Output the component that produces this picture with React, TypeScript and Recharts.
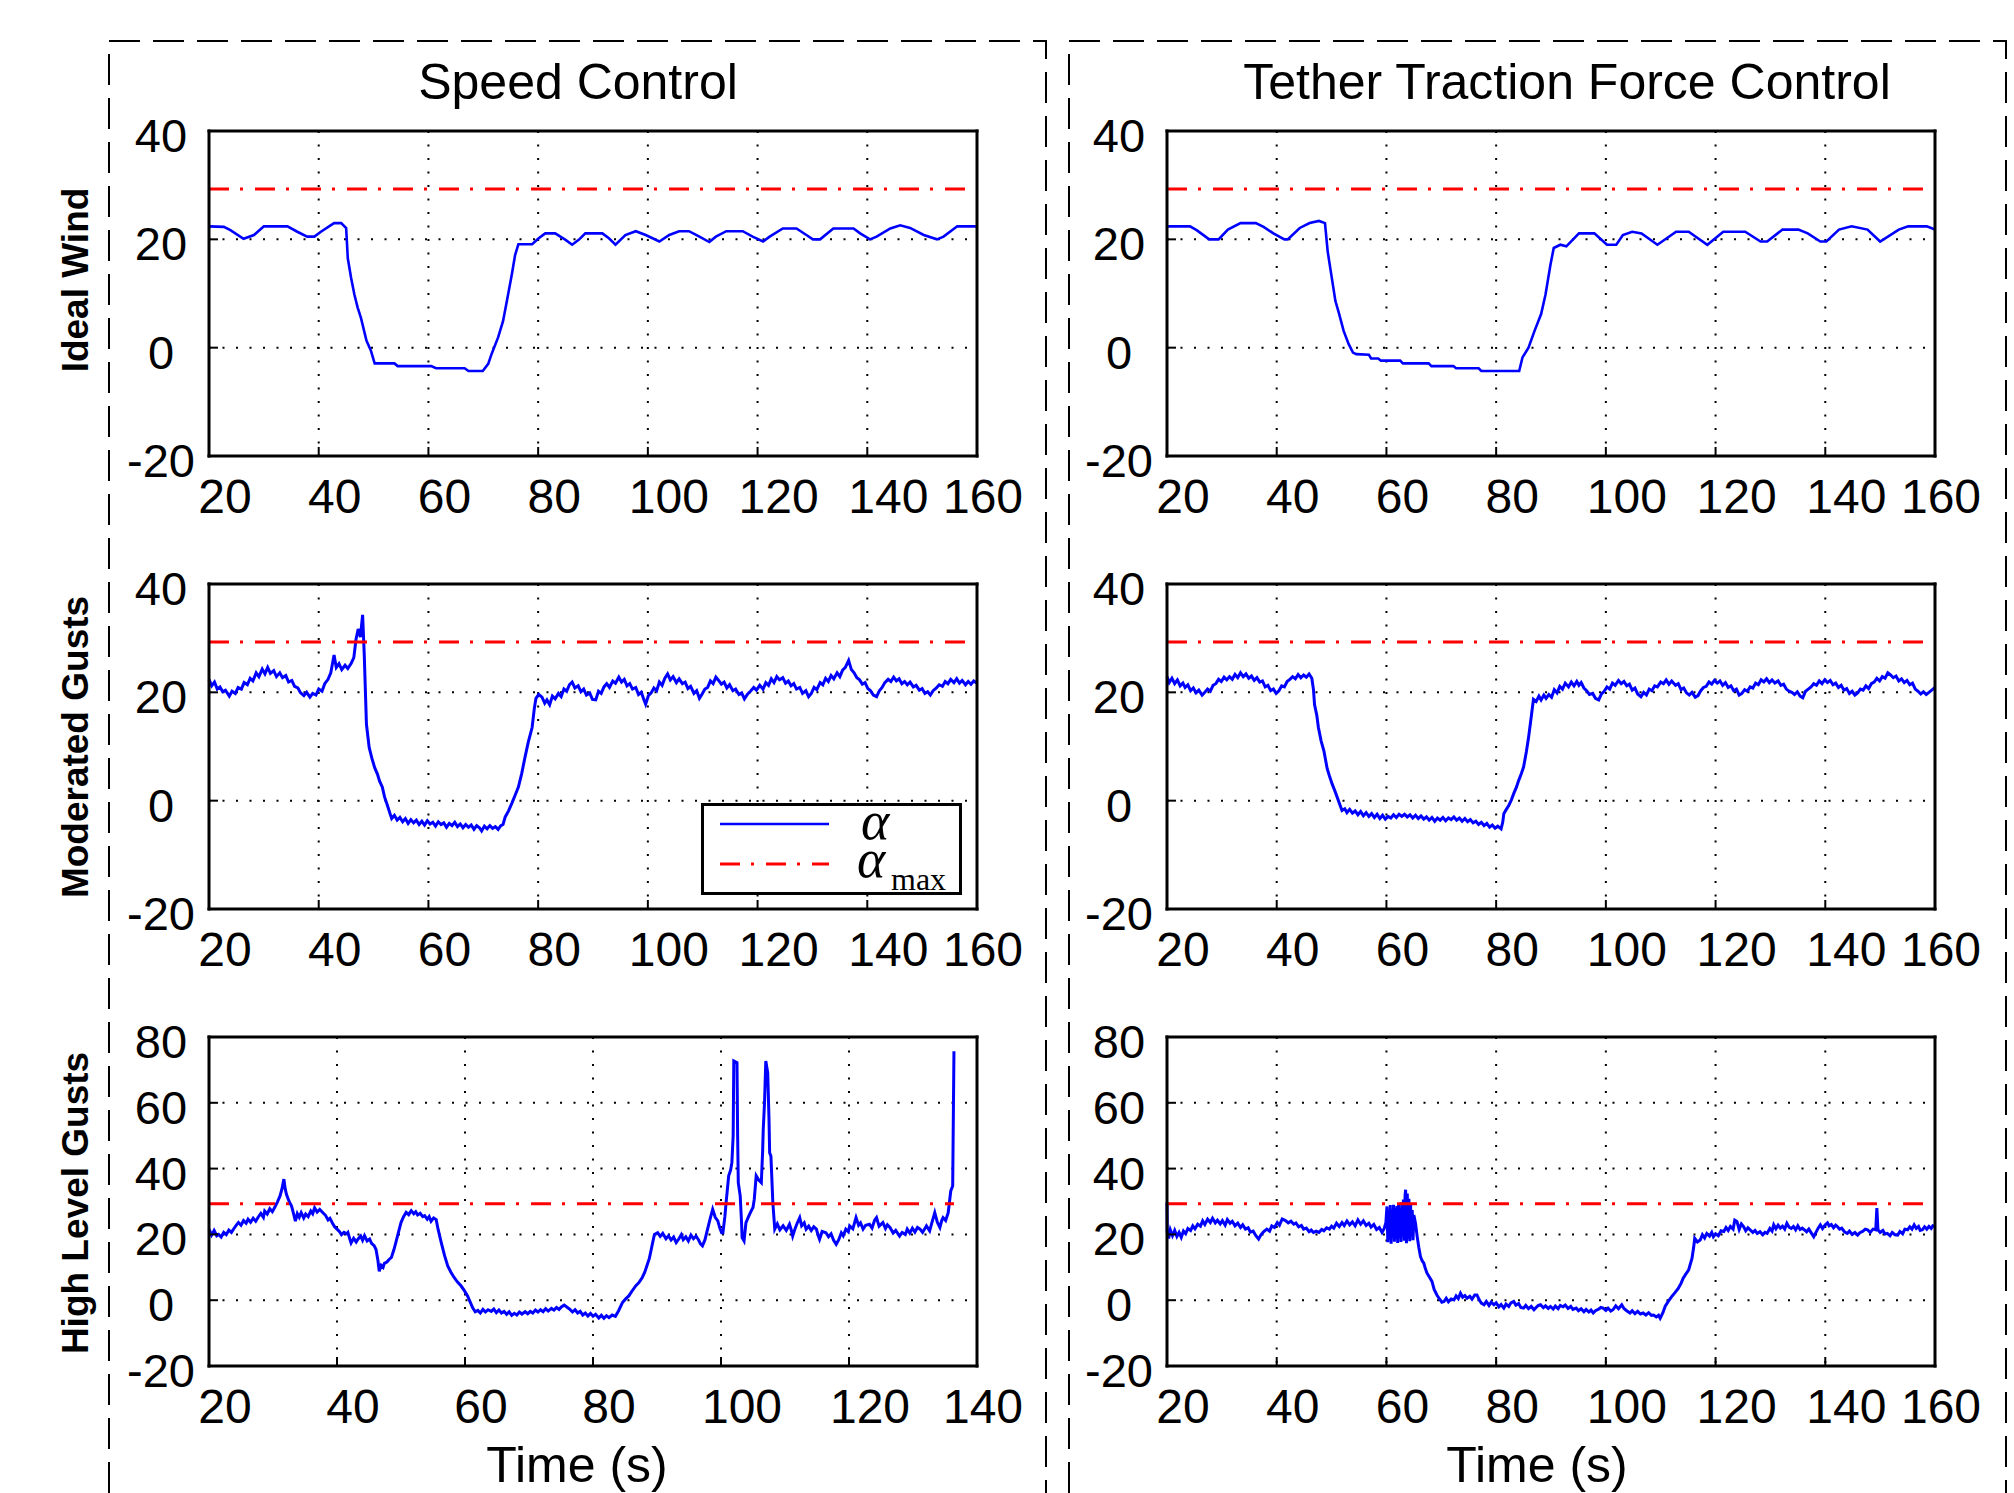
import React from "react"
import { LineChart, Line, XAxis, YAxis, CartesianGrid } from "recharts"

type Pt = [number, number]

const ALPHA_MAX = 29.3
const timeTicks = [20, 40, 60, 80, 100, 120, 140, 160]
const timeTicksHigh = [20, 40, 60, 80, 100, 120, 140]
const alphaTicks = [-20, 0, 20, 40]
const alphaTicksHigh = [-20, 0, 20, 40, 60, 80]
const columnTitles = ["Speed Control", "Tether Traction Force Control"]
const rowLabels = ["Ideal Wind", "Moderated Gusts", "High Level Gusts"]
const xAxisLabel = "Time (s)"
const legendLabels = ["α", "α", "max"]

// angle of attack (deg) vs time (s)
const idealSpeed: Pt[] = [
  [20, 22.4], [22.7, 22.3], [23.9, 21.7], [26.3, 20.1], [28.2, 20.8], [30, 22.4], [34.3, 22.4], [36.1, 21.4],
  [37.9, 20.5], [39.2, 20.5], [40.4, 21.4], [42.8, 23.0], [44.1, 23.0], [45, 22.1], [45.3, 16.5], [45.9, 12.9],
  [46.5, 9.8], [47.1, 7.4], [47.7, 5.5], [48.7, 1.3], [49.5, -0.5], [50.2, -2.9], [53.8, -2.9], [54.4, -3.4],
  [60.5, -3.4], [61.4, -3.8], [66.6, -3.8], [67.3, -4.3], [69.9, -4.3], [70.9, -3.0], [71.5, -1.2], [72.7, 1.9],
  [73.6, 4.9], [74.3, 8.6], [75.2, 13.5], [75.8, 17.1], [76.4, 19.1], [78.9, 19.1], [80.1, 20.2], [81.3, 21.1],
  [83.1, 21.1], [85, 19.9], [86.2, 19.0], [87.4, 19.9], [88.6, 21.1], [91.7, 21.1], [92.9, 20.2], [94.1, 19.0],
  [95.9, 20.8], [97.8, 21.5], [99.6, 20.8], [102.1, 19.6], [103.9, 20.8], [105.7, 21.5], [107.5, 21.5],
  [109.4, 20.5], [111.2, 19.5], [112.4, 20.5], [114.3, 21.5], [117.3, 21.5], [119.1, 20.5], [121, 19.6],
  [122.2, 20.5], [124.6, 22.0], [127.1, 22.0], [128.9, 20.8], [130.1, 20.0], [131.4, 20.0], [133.8, 22.0],
  [137.5, 22.0], [138.7, 21.1], [140.5, 20.0], [141.7, 20.5], [144.2, 22.0], [146, 22.6], [147.8, 22.1],
  [150.3, 20.8], [152.7, 20.0], [153.9, 20.5], [156.4, 22.4], [160, 22.4],
]

const idealTether: Pt[] = [
  [20, 22.4], [24.2, 22.4], [25.4, 21.7], [27.7, 20.0], [29.4, 20.0], [31.1, 21.8], [33.4, 23.0], [36.2, 23.0],
  [37.6, 22.3], [39.4, 21.1], [41.4, 20.0], [42, 20.0], [44.2, 22.1], [46, 23.0], [47.7, 23.4], [48.8, 23.0],
  [49.3, 17.7], [49.9, 13.8], [50.7, 8.6], [51.3, 6.5], [52.2, 3.1], [53.1, 0.7], [53.9, -0.9], [54.5, -1.2],
  [56.8, -1.3], [57.2, -2.0], [58.5, -2.0], [59, -2.4], [62.5, -2.4], [63, -2.9], [67.7, -2.9], [68.2, -3.4],
  [72.2, -3.4], [72.7, -3.8], [76.8, -3.8], [77.3, -4.3], [84.2, -4.3], [84.8, -1.8], [85.9, 0], [87, 3.1],
  [88.2, 6.2], [89, 9.8], [89.9, 15.3], [90.5, 18.4], [91.7, 19.0], [92.8, 18.7], [95.1, 21.1], [97.9, 21.1],
  [98.9, 20.2], [100.2, 19.0], [101.9, 19.0], [103.1, 20.8], [104.8, 21.4], [106.5, 21.1], [109.4, 19.0],
  [112.8, 21.4], [115.1, 21.4], [118.5, 19.0], [121.4, 21.4], [125.4, 21.4], [128.2, 19.6], [129.4, 19.6],
  [132.2, 21.8], [135.1, 21.8], [136.8, 21.1], [139.1, 19.6], [140.2, 19.6], [142.5, 21.8], [144.8, 22.4],
  [147.7, 21.8], [150, 19.6], [153.4, 21.8], [155.1, 22.4], [158.5, 22.4], [160, 21.8],
]

const moderatedSpeed: Pt[] = [
  [20, 22.4], [20.5, 21.2], [21, 21.9], [21.5, 20.6], [22, 21.0], [22.5, 20.1], [23, 20.4], [23.7, 19.3], [24.2, 20.2],
  [24.8, 19.8], [25.3, 20.9], [25.9, 20.6], [26.4, 21.8], [27, 21.4], [27.5, 22.6], [28, 22.1], [28.6, 23.6],
  [29.1, 22.9], [29.7, 24.3], [30.2, 23.4], [30.7, 24.6], [31.2, 23.5], [31.8, 24.0], [32.3, 22.9], [32.9, 23.6],
  [33.4, 22.7], [34, 23.1], [34.5, 21.9], [35.1, 22.2], [35.6, 21.1], [36.2, 20.8], [36.7, 19.9], [37.3, 19.4],
  [37.8, 20.0], [38.4, 19.1], [38.9, 19.8], [39.5, 19.5], [40, 20.6], [40.6, 20.2], [41.1, 21.6], [41.7, 22.4],
  [42.2, 23.6], [42.8, 26.9], [43.2, 24.6], [43.7, 25.3], [44.2, 24.2], [44.8, 25.0], [45.3, 24.4], [45.9, 25.3],
  [46.4, 26.4], [46.8, 29.8], [47.2, 31.7], [47.6, 30.2], [48, 34.3], [48.3, 27], [48.5, 20.5], [48.7, 14.1],
  [49.2, 9.8], [49.7, 7.8], [50.2, 6.1], [50.7, 4.9], [51.1, 3.6], [51.6, 2.5], [52, 0.7], [52.5, -0.8], [53, -2.4],
  [53.3, -3.3], [53.8, -2.7], [54.3, -3.6], [54.8, -3.1], [55.3, -3.9], [55.8, -3.3], [56.3, -4.2], [56.8, -3.5],
  [57.3, -4.1], [57.8, -3.6], [58.3, -4.4], [58.8, -3.8], [59.3, -4.5], [59.8, -3.7], [60.3, -4.3], [60.8, -4.0],
  [61.3, -4.7], [61.8, -3.9], [62.3, -4.4], [62.8, -4.1], [63.3, -4.9], [63.8, -4.2], [64.3, -4.6], [64.8, -4.0],
  [65.3, -4.8], [65.8, -4.3], [66.3, -5.0], [66.8, -4.4], [67.3, -4.9], [67.8, -4.5], [68.3, -5.3], [68.8, -4.6],
  [69.3, -5.0], [69.7, -5.6], [70.2, -4.7], [70.7, -5.2], [71.2, -4.6], [71.7, -5.1], [72.2, -4.8], [72.7, -5.3],
  [73.2, -4.6], [73.6, -4.4], [74, -3.0], [74.6, -1.9], [75.2, -0.5], [75.8, 1.0], [76.4, 2.5], [77, 5.0],
  [77.6, 8.0], [78.2, 10.8], [78.9, 13.5], [79.3, 17.0], [79.6, 18.9], [80.1, 19.6], [80.7, 19.1], [81.2, 18.0],
  [81.6, 18.6], [82.1, 17.7], [82.6, 19.3], [83.1, 18.8], [83.7, 19.8], [84.2, 19.2], [84.7, 20.6], [85.2, 20.2],
  [85.7, 21.4], [86.2, 21.9], [86.7, 20.8], [87.3, 21.2], [87.8, 20.1], [88.3, 20.6], [88.8, 19.5], [89.4, 19.9],
  [89.9, 18.7], [90.5, 18.6], [91, 20.2], [91.5, 19.8], [92, 21.0], [92.5, 21.6], [93, 20.9], [93.6, 22.1],
  [94.1, 21.7], [94.7, 22.8], [95.2, 21.9], [95.7, 22.4], [96.2, 21.2], [96.7, 21.6], [97.2, 20.6], [97.8, 20.9],
  [98.3, 19.6], [98.8, 20.0], [99.3, 18.6], [99.6, 17.8], [100.1, 19.4], [100.6, 19.9], [101.1, 20.8], [101.6, 20.3],
  [102.1, 21.9], [102.6, 21.3], [103.1, 22.6], [103.6, 23.4], [104.1, 22.3], [104.6, 22.9], [105.2, 21.8],
  [105.7, 22.5], [106.3, 21.6], [106.8, 21.9], [107.3, 20.7], [107.8, 21.1], [108.4, 19.8], [108.9, 20.3],
  [109.4, 18.9], [109.9, 19.7], [110.4, 20.6], [110.9, 20.9], [111.4, 22.1], [111.9, 21.6], [112.4, 22.8],
  [112.9, 22.2], [113.4, 21.5], [113.9, 21.9], [114.4, 20.8], [114.9, 21.4], [115.5, 20.3], [116, 20.6],
  [116.6, 19.6], [117.1, 19.9], [117.6, 18.8], [118.2, 19.7], [118.7, 20.2], [119.3, 20.9], [119.8, 20.4],
  [120.4, 21.3], [121, 20.6], [121.5, 21.8], [122, 21.3], [122.5, 22.5], [123, 21.8], [123.5, 22.9], [124, 22.3],
  [124.6, 22.7], [125.1, 21.7], [125.6, 22.1], [126.1, 21.2], [126.6, 21.6], [127.1, 20.6], [127.7, 20.9],
  [128.2, 19.8], [128.8, 20.3], [129.3, 19.2], [129.8, 19.8], [130.3, 20.9], [130.8, 20.5], [131.4, 21.8],
  [131.9, 21.4], [132.4, 22.6], [132.9, 22.0], [133.4, 23.1], [133.9, 22.5], [134.5, 23.6], [135, 22.9],
  [135.5, 24.1], [136, 24.6], [136.6, 25.9], [137.1, 24.2], [137.6, 23.6], [138.1, 22.7], [138.6, 22.3],
  [139.1, 21.5], [139.6, 21.8], [140.1, 20.7], [140.6, 20.3], [141.1, 19.5], [141.7, 19.2], [142.2, 20.3],
  [142.7, 20.9], [143.2, 21.8], [143.8, 22.4], [144.3, 22.0], [144.8, 22.8], [145.3, 22.1], [145.8, 22.5],
  [146.3, 21.6], [146.8, 22.0], [147.3, 21.4], [147.8, 21.9], [148.4, 21.0], [148.9, 21.3], [149.5, 20.4],
  [150, 20.7], [150.5, 19.8], [151, 20.1], [151.5, 19.5], [152, 20.3], [152.6, 20.8], [153.1, 21.4], [153.7, 21.1],
  [154.2, 22.0], [154.7, 21.6], [155.2, 22.4], [155.8, 21.8], [156.3, 22.5], [156.8, 21.7], [157.3, 22.2],
  [157.9, 21.4], [158.4, 22.0], [158.9, 21.5], [159.4, 22.1], [160, 21.7],
]

const moderatedTether: Pt[] = [
  [20, 22.9], [20.4, 21.8], [20.9, 22.6], [21.4, 21.6], [21.9, 22.3], [22.4, 21.2], [22.9, 21.7], [23.3, 20.9],
  [23.8, 21.4], [24.3, 20.3], [24.8, 20.8], [25.3, 19.9], [25.8, 20.4], [26.4, 19.5], [26.9, 20.0], [27.4, 20.6],
  [27.9, 20.2], [28.4, 21.3], [28.9, 21.6], [29.4, 22.4], [29.9, 22.0], [30.4, 22.8], [30.9, 22.3], [31.4, 22.9],
  [31.9, 22.4], [32.4, 23.3], [32.9, 22.7], [33.4, 23.6], [33.9, 22.9], [34.4, 23.4], [34.9, 22.6], [35.4, 23.0],
  [35.9, 22.2], [36.4, 22.7], [36.9, 21.9], [37.4, 22.1], [37.9, 21.0], [38.4, 21.3], [38.9, 20.3], [39.4, 20.6],
  [39.9, 19.8], [40.4, 20.3], [40.9, 21.2], [41.4, 21.0], [41.9, 22.0], [42.4, 22.4], [42.9, 22.9], [43.4, 22.5],
  [43.9, 23.3], [44.4, 22.7], [44.9, 23.2], [45.4, 22.8], [45.9, 23.4], [46.4, 22.6], [46.7, 20.5], [46.9, 17.7],
  [47.3, 15.8], [47.6, 13.5], [48.1, 11.0], [48.6, 9.2], [49.2, 5.9], [49.6, 4.6], [50.1, 3.1], [50.6, 1.8],
  [51, 0.7], [51.5, -0.7], [51.9, -1.8], [52.4, -1.5], [52.8, -2.2], [53.3, -1.6], [53.8, -2.3], [54.3, -1.9],
  [54.8, -2.6], [55.3, -2.0], [55.8, -2.8], [56.3, -2.2], [56.8, -2.9], [57.3, -2.4], [57.8, -3.1], [58.3, -2.5],
  [58.8, -3.3], [59.3, -2.7], [59.8, -3.4], [60.3, -2.9], [60.8, -3.2], [61.3, -2.6], [61.8, -3.1], [62.3, -2.5],
  [62.8, -2.9], [63.3, -2.5], [63.8, -3.0], [64.3, -2.6], [64.8, -3.2], [65.3, -2.7], [65.8, -3.3], [66.3, -2.8],
  [66.8, -3.4], [67.3, -3.0], [67.8, -3.6], [68.3, -3.1], [68.8, -3.8], [69.3, -3.2], [69.8, -3.6], [70.3, -3.1],
  [70.8, -3.7], [71.3, -3.2], [71.8, -3.5], [72.3, -3.0], [72.8, -3.6], [73.3, -3.2], [73.8, -3.8], [74.3, -3.3],
  [74.8, -3.9], [75.3, -3.5], [75.8, -4.1], [76.3, -3.8], [76.8, -4.4], [77.3, -4.0], [77.8, -4.6], [78.3, -4.2],
  [78.8, -4.9], [79.3, -4.5], [79.8, -5.1], [80.3, -4.7], [80.9, -5.2], [81.2, -4.0], [81.4, -2.4], [81.8, -1.7],
  [82.3, -0.9], [82.8, 0.2], [83.2, 1.3], [83.7, 2.5], [84.1, 3.7], [84.6, 5.0], [85, 6.2], [85.5, 9.0], [85.9, 11.6],
  [86.3, 14.7], [86.8, 18.7], [87.3, 18.3], [87.8, 19.3], [88.2, 18.6], [88.7, 19.5], [89.1, 18.9], [89.6, 19.6],
  [90.1, 19.1], [90.6, 20.5], [91.1, 19.9], [91.6, 21.1], [92.1, 20.6], [92.6, 21.7], [93.2, 21.0], [93.7, 21.9],
  [94.2, 21.2], [94.7, 22.0], [95.1, 21.3], [95.5, 21.8], [96, 20.8], [96.5, 20.3], [97, 19.6], [97.6, 19.8],
  [98.1, 18.9], [98.7, 18.6], [99.2, 19.7], [99.7, 20.2], [100.2, 21.0], [100.7, 20.6], [101.2, 21.7], [101.7, 21.3],
  [102.3, 22.2], [102.8, 21.6], [103.3, 22.0], [103.8, 21.2], [104.3, 21.5], [104.8, 20.4], [105.3, 20.8],
  [105.8, 19.7], [106.4, 19.2], [106.9, 20.0], [107.4, 19.5], [107.9, 20.6], [108.4, 20.3], [108.9, 21.2],
  [109.4, 21.0], [110, 21.9], [110.5, 21.6], [111, 22.3], [111.5, 21.5], [112, 22.1], [112.7, 21.3], [113.2, 21.6],
  [113.7, 20.5], [114.2, 20.8], [114.7, 19.9], [115.2, 19.5], [115.7, 20.0], [116.3, 19.1], [116.8, 19.4],
  [117.3, 20.3], [117.8, 20.9], [118.3, 21.1], [118.8, 21.9], [119.3, 21.5], [119.8, 22.2], [120.3, 21.7],
  [120.8, 22.1], [121.3, 21.3], [121.8, 21.8], [122.3, 20.9], [122.8, 21.2], [123.3, 20.3], [123.8, 20.6],
  [124.3, 19.5], [124.8, 19.8], [125.3, 20.5], [125.8, 20.2], [126.3, 21.0], [126.8, 20.8], [127.3, 21.7],
  [127.8, 21.4], [128.3, 22.3], [128.8, 21.9], [129.3, 22.5], [129.8, 21.8], [130.3, 22.3], [130.8, 21.7],
  [131.4, 22.1], [131.9, 21.3], [132.4, 21.5], [132.9, 20.6], [133.4, 20.2], [133.9, 20.0], [134.4, 19.6],
  [134.9, 20.1], [135.4, 19.3], [135.9, 19.0], [136.4, 20.2], [136.9, 20.6], [137.4, 21.0], [137.9, 21.6],
  [138.4, 21.3], [138.9, 22.1], [139.4, 21.6], [139.9, 22.3], [140.4, 21.8], [140.9, 22.2], [141.4, 21.4],
  [141.9, 21.7], [142.4, 20.9], [142.9, 21.3], [143.4, 20.4], [143.9, 20.7], [144.4, 19.8], [144.9, 20.2],
  [145.4, 19.5], [145.9, 19.9], [146.4, 20.6], [146.9, 20.4], [147.4, 21.2], [147.9, 20.7], [148.4, 21.6],
  [148.9, 21.9], [149.4, 22.6], [149.9, 22.1], [150.4, 22.9], [150.9, 22.6], [151.4, 23.6], [151.9, 23.2],
  [152.4, 22.7], [152.9, 23.0], [153.4, 22.1], [153.9, 22.5], [154.4, 21.8], [154.9, 22.2], [155.4, 21.4],
  [155.9, 21.7], [156.4, 20.6], [156.9, 20.2], [157.4, 19.7], [157.9, 20.1], [158.4, 19.6], [158.9, 20.0],
  [159.4, 20.4], [160, 20.9],
]

const highSpeed: Pt[] = [
  [20, 21.6], [20.4, 19.8], [20.8, 21.2], [21.2, 19.6], [21.5, 20.0], [21.9, 19.2], [22.3, 20.6], [22.7, 19.9],
  [23.1, 21.3], [23.5, 20.6], [23.9, 21.8], [24.3, 22.9], [24.6, 23.6], [25, 22.8], [25.4, 24.2], [25.8, 23.4],
  [26.1, 24.6], [26.5, 23.7], [26.9, 24.9], [27.3, 24.0], [27.7, 25.3], [28.1, 26.4], [28.5, 25.2], [28.7, 27.1],
  [29.1, 26.2], [29.5, 27.8], [29.9, 26.9], [30.3, 28.3], [30.7, 29.9], [31.1, 31.7], [31.4, 33.8], [31.7, 36.8],
  [31.9, 33.9], [32.1, 32.2], [32.5, 30.1], [32.9, 28.6], [33.2, 26.4], [33.5, 24.0], [33.8, 26.3], [34.1, 25.2],
  [34.4, 26.6], [34.8, 25.0], [35.1, 26.2], [35.5, 25.4], [35.9, 27.1], [36.2, 26.3], [36.5, 28.1], [36.9, 26.8],
  [37.3, 27.6], [37.8, 26.6], [38.2, 25.8], [38.6, 24.4], [38.9, 24.9], [39.3, 23.4], [39.6, 22.4], [40, 21.6],
  [40.4, 20.8], [40.7, 19.9], [41.1, 20.6], [41.5, 20.2], [41.7, 20.6], [42, 18.6], [42.2, 17.4], [42.6, 18.8],
  [43, 17.7], [43.3, 18.6], [43.7, 19.5], [44, 18.2], [44.3, 19.6], [44.7, 18.0], [45.1, 18.6], [45.4, 17.3],
  [45.8, 16.6], [46.1, 15.4], [46.4, 12.0], [46.6, 8.8], [46.9, 10.6], [47.2, 10.0], [47.4, 11.2], [47.8, 11.6],
  [48.1, 12.3], [48.5, 13.0], [48.9, 15.4], [49.2, 17.6], [49.6, 20.6], [50, 23.6], [50.4, 25.4], [50.8, 26.7],
  [51.2, 26.0], [51.6, 27.2], [52, 26.3], [52.3, 26.9], [52.6, 25.9], [53, 26.4], [53.4, 25.4], [53.7, 25.7],
  [54.1, 24.6], [54.4, 25.4], [54.7, 24.0], [55.1, 25.0], [55.5, 24.5], [55.8, 21.5], [56.3, 17.4], [56.8, 13.6],
  [57.3, 10.4], [57.8, 8.5], [58.3, 6.9], [58.8, 5.6], [59.4, 4.3], [59.9, 2.9], [60.4, 1.3], [60.8, -0.5],
  [61.2, -2.3], [61.6, -3.5], [62, -3.1], [62.4, -3.9], [62.8, -2.8], [63.2, -3.6], [63.6, -2.9], [64.1, -3.4],
  [64.5, -2.7], [64.9, -3.8], [65.3, -3.0], [65.7, -3.9], [66.1, -3.4], [66.5, -4.3], [66.9, -3.5], [67.3, -4.6],
  [67.7, -4.0], [68.1, -4.5], [68.5, -3.6], [68.9, -4.2], [69.4, -3.5], [69.8, -4.1], [70.2, -3.4], [70.6, -3.9],
  [71, -3.0], [71.4, -3.6], [71.8, -2.9], [72.2, -3.5], [72.6, -2.6], [73, -3.3], [73.5, -2.5], [73.9, -3.0],
  [74.3, -2.2], [74.7, -2.8], [75.1, -2.0], [75.5, -1.5], [76, -2.2], [76.4, -2.8], [76.8, -3.6], [77.2, -2.9],
  [77.6, -3.9], [78, -3.4], [78.4, -4.5], [78.8, -3.9], [79.2, -4.8], [79.6, -4.0], [80, -4.9], [80.4, -4.3],
  [80.9, -5.4], [81.3, -4.6], [81.7, -5.5], [82.1, -4.7], [82.5, -5.3], [83, -4.5], [83.5, -4.9], [84, -3.2],
  [84.6, -0.7], [85.1, 0.4], [85.6, 1.3], [86.1, 2.8], [86.7, 4.4], [87.2, 5.4], [87.7, 6.9], [88.1, 8.6],
  [88.5, 10.9], [88.8, 12.7], [89, 14.5], [89.3, 17.3], [89.6, 20.0], [90.1, 20.5], [90.5, 19.4], [90.9, 20.3],
  [91.4, 18.7], [91.8, 19.6], [92.2, 18.3], [92.6, 19.2], [93, 17.5], [93.4, 18.6], [93.8, 19.9], [94.1, 18.4],
  [94.5, 19.3], [94.9, 18.0], [95.3, 19.8], [95.7, 18.7], [96.1, 19.5], [96.5, 18.3], [96.8, 17.1], [97.1, 16.5],
  [97.5, 18.4], [97.9, 21.6], [98.3, 24.7], [98.7, 27.6], [99.1, 25.2], [99.5, 24.1], [99.8, 22.0], [100.1, 20.5],
  [100.3, 20.5], [100.6, 25.3], [100.8, 29.7], [101.2, 37.8], [101.5, 39.5], [101.7, 41.8], [101.9, 50.0],
  [102, 72.7], [102.5, 72.2], [102.6, 50.0], [102.7, 35.7], [103, 31.7], [103.2, 24.0], [103.3, 19.0], [103.6, 18.0],
  [103.9, 23.6], [104.3, 25.4], [104.7, 27.1], [105, 28.2], [105.2, 30.7], [105.5, 37.8], [105.9, 36.5],
  [106.3, 35.7], [106.5, 45.0], [106.6, 51.9], [106.8, 60.0], [107, 72.7], [107.3, 69.1], [107.5, 55.0],
  [107.6, 44.8], [107.8, 43.8], [108.1, 29.7], [108.4, 21.6], [108.8, 23.2], [109.2, 21.4], [109.7, 22.6],
  [110.2, 21.2], [110.7, 23.1], [111, 21.2], [111.2, 19.5], [111.6, 21.9], [111.9, 23.4], [112.3, 25.1],
  [112.6, 22.6], [113, 23.5], [113.3, 21.6], [113.7, 22.5], [114.1, 21.2], [114.5, 22.3], [114.9, 21.6],
  [115.2, 19.6], [115.4, 18.5], [115.8, 20.9], [116.4, 20.5], [116.8, 19.3], [117.2, 20.2], [117.6, 18.2],
  [118, 17.0], [118.4, 18.4], [118.8, 20.5], [119.1, 19.6], [119.5, 21.6], [119.9, 20.8], [120.1, 22.6],
  [120.6, 21.7], [121.1, 25.1], [121.5, 22.8], [121.8, 23.5], [122.2, 21.6], [122.6, 22.8], [123.2, 23.1],
  [123.6, 21.9], [124, 24.3], [124.3, 25.1], [124.7, 22.5], [125.3, 23.6], [125.7, 21.8], [126, 22.9],
  [126.4, 22.1], [126.9, 20.4], [127.3, 21.2], [127.9, 19.5], [128.3, 20.6], [128.8, 20.0], [129.1, 21.6],
  [129.5, 20.4], [129.9, 21.9], [130.3, 20.7], [130.7, 22.1], [131.1, 21.6], [131.5, 20.6], [132.1, 22.6],
  [132.6, 21.1], [132.9, 23.2], [133.4, 26.6], [133.8, 23.7], [134.2, 22.1], [134.5, 24.3], [134.7, 25.1],
  [135.1, 24.2], [135.5, 26.6], [135.9, 33.2], [136.2, 34.7], [136.4, 75.7],
]

const highTether: Pt[] = [
  [20, 29.7], [20.05, 20.5], [20.3, 18.8], [20.6, 21.4], [21, 19.6], [21.4, 21.2], [21.8, 19.4], [22.2, 20.6],
  [22.6, 19.1], [23, 21.0], [23.4, 20.2], [23.8, 21.8], [24.3, 21.2], [24.7, 22.6], [25.1, 21.7], [25.6, 23.1],
  [26.1, 22.5], [26.5, 24.1], [26.9, 23.0], [27.4, 24.6], [27.9, 23.6], [28.3, 24.9], [28.8, 23.5], [29.2, 24.3],
  [29.7, 23.2], [30.1, 24.2], [30.6, 22.8], [31, 24.5], [31.5, 23.4], [31.9, 24.0], [32.4, 22.6], [32.9, 23.4],
  [33.4, 22.1], [33.8, 22.9], [34.3, 21.6], [34.8, 22.0], [35.2, 20.7], [35.7, 21.0], [36.2, 19.6], [36.7, 18.6],
  [37.1, 19.8], [37.6, 20.8], [38.2, 21.6], [38.7, 21.0], [39.1, 22.6], [39.6, 22.1], [40.1, 23.6], [40.5, 22.8],
  [41, 24.7], [41.6, 24.2], [42.1, 23.5], [42.6, 24.0], [43.1, 23.1], [43.5, 23.5], [44, 22.3], [44.5, 22.7],
  [44.9, 21.6], [45.4, 21.9], [45.9, 20.8], [46.3, 21.3], [46.7, 20.6], [47.2, 21.0], [47.7, 20.6], [48.2, 21.5],
  [48.6, 21.1], [49.1, 22.0], [49.6, 21.6], [50, 22.5], [50.4, 21.9], [50.9, 23.4], [51.4, 22.4], [51.9, 23.6],
  [52.3, 22.7], [52.8, 24.1], [53.3, 22.9], [53.8, 23.8], [54.3, 22.6], [54.8, 24.4], [55.3, 23.1], [55.8, 24.1],
  [56.3, 22.7], [56.8, 23.4], [57.2, 22.2], [57.7, 23.0], [58.2, 21.5], [58.7, 22.1], [59.2, 20.6], [59.6, 21.8],
  [59.9, 23.6], [60.1, 28.5], [60.25, 17.6], [60.4, 27.0], [60.55, 18.4], [60.7, 28.9], [60.85, 17.2], [61, 27.5],
  [61.15, 19.3], [61.3, 29.0], [61.45, 17.8], [61.6, 27.9], [61.75, 18.6], [61.9, 28.6], [62.05, 17.4],
  [62.2, 29.2], [62.35, 18.9], [62.5, 28.0], [62.65, 17.7], [62.8, 29.8], [62.95, 19.2], [63.1, 30.6],
  [63.25, 18.1], [63.4, 31.9], [63.5, 33.6], [63.65, 17.3], [63.8, 32.4], [63.95, 18.6], [64.1, 30.8],
  [64.25, 17.9], [64.4, 29.1], [64.55, 19.4], [64.7, 27.4], [64.85, 18.2], [65, 25.9], [65.3, 23.4], [65.6, 19.4],
  [65.9, 16.1], [66.2, 13.3], [66.5, 12.0], [66.8, 11.3], [67.1, 9.6], [67.4, 8.2], [67.8, 7.1], [68.3, 5.7],
  [68.7, 3.3], [69.2, 1.6], [69.7, 0.3], [70.1, -0.6], [70.5, -0.4], [70.9, 0.6], [71.3, -0.5], [71.8, 0.4],
  [72.3, 0.1], [72.7, 1.3], [73.1, 0.5], [73.5, 2.1], [73.9, 0.9], [74.3, 1.4], [74.7, 0.6], [75.2, 1.2],
  [75.6, 0.3], [76.1, 1.6], [76.5, 1.6], [76.9, 0.2], [77.3, -0.9], [77.8, -1.4], [78.2, -0.4], [78.7, -1.6],
  [79.1, -0.6], [79.6, -1.4], [80, -0.8], [80.5, -2.0], [80.9, -1.3], [81.4, -2.4], [81.8, -1.2], [82.3, -1.9],
  [82.7, -0.8], [83.2, -0.4], [83.6, -1.5], [84.1, -1.0], [84.5, -2.2], [85, -2.4], [85.4, -1.6], [85.9, -2.6],
  [86.4, -1.9], [86.9, -2.9], [87.3, -2.2], [87.7, -1.6], [88.1, -1.4], [88.6, -2.3], [89, -1.7], [89.5, -2.5],
  [89.9, -1.9], [90.4, -2.7], [90.8, -1.8], [91.3, -2.6], [91.7, -1.6], [92.2, -2.0], [92.6, -1.5], [93.1, -2.5],
  [93.6, -1.9], [94, -2.8], [94.6, -2.4], [95, -3.2], [95.5, -2.6], [96, -3.5], [96.4, -2.8], [96.9, -3.6],
  [97.3, -3.0], [97.7, -3.9], [98.1, -3.2], [98.6, -2.8], [99.1, -2.2], [99.5, -2.4], [100, -3.1], [100.4, -2.4],
  [100.9, -3.3], [101.3, -2.9], [101.8, -1.7], [102.3, -2.6], [102.9, -1.4], [103.3, -2.5], [103.8, -3.2],
  [104.4, -3.9], [104.8, -3.2], [105.3, -4.1], [105.8, -3.4], [106.3, -4.2], [106.8, -3.9], [107.3, -4.5],
  [107.8, -3.8], [108.3, -4.6], [108.7, -4.5], [109.2, -5.1], [109.6, -4.6], [109.9, -5.5], [110.4, -3.8],
  [110.8, -1.9], [111.4, -0.3], [112, 1.1], [112.6, 2.3], [113.2, 3.6], [113.7, 5.1], [114.1, 6.7], [114.6, 8.0],
  [115.1, 9.2], [115.4, 11.0], [115.7, 12.7], [116, 16.0], [116.2, 18.8], [116.7, 17.7], [117.2, 18.3],
  [117.6, 19.9], [118, 18.9], [118.4, 20.3], [118.9, 19.5], [119.3, 20.6], [119.6, 19.3], [120, 20.2],
  [120.5, 19.6], [121, 21.1], [121.5, 20.9], [121.9, 22.1], [122.3, 21.2], [122.7, 22.4], [123.2, 21.6],
  [123.5, 24.3], [123.9, 23.9], [124.3, 21.5], [124.7, 23.2], [125.1, 22.4], [125.5, 21.1], [125.9, 22.0],
  [126.3, 21.4], [126.8, 20.6], [127.2, 21.2], [127.6, 20.3], [128.1, 20.8], [128.6, 19.9], [129, 20.6],
  [129.4, 20.3], [129.9, 21.8], [130.3, 21.0], [130.6, 22.9], [131, 21.7], [131.4, 22.8], [131.8, 21.9],
  [132.2, 22.5], [132.6, 21.6], [133, 23.4], [133.4, 22.2], [133.8, 21.8], [134.2, 22.4], [134.6, 21.4],
  [135, 22.6], [135.4, 21.5], [135.8, 21.9], [136.1, 21.5], [136.6, 20.8], [137, 21.6], [137.5, 20.3],
  [137.9, 19.3], [138.3, 20.6], [138.7, 21.9], [139.1, 22.9], [139.5, 21.8], [140, 22.9], [140.4, 23.5],
  [140.7, 22.6], [141.1, 23.0], [141.5, 22.0], [141.9, 22.8], [142.2, 22.4], [142.6, 21.6], [143, 21.9],
  [143.5, 20.8], [144, 20.3], [144.4, 21.0], [144.9, 20.0], [145.4, 20.6], [145.9, 19.8], [146.3, 20.5],
  [146.8, 20.9], [147.3, 21.6], [147.7, 21.4], [148.2, 20.6], [148.7, 21.6], [149.2, 21.4], [149.4, 28.0],
  [149.6, 21.4], [150, 20.6], [150.5, 21.2], [150.9, 20.1], [151.3, 20.3], [151.8, 19.6], [152.2, 20.6],
  [152.7, 19.9], [153.2, 19.8], [153.6, 20.9], [154.1, 20.2], [154.5, 21.6], [155, 21.4], [155.4, 22.3],
  [155.8, 21.6], [156.2, 22.9], [156.6, 21.8], [157, 22.4], [157.3, 21.2], [157.7, 21.4], [158.1, 22.3],
  [158.5, 21.6], [158.9, 22.4], [159.3, 21.8], [159.6, 22.6], [160, 22.4],
]

const FONT = "'Liberation Sans', Arial, Helvetica, sans-serif"
const SERIF = "'Liberation Serif', 'Times New Roman', serif"
const BLUE = "#0000ff"
const RED = "#ff0000"
const DASH_DOT = "20 11 3 12"
const PLOT_W = 768
const COL_X = [209, 1167]
const ROW_Y = [131, 584, 1037]
const ROW_H = [325, 325, 329]
// outer box around each plot; axes need a non-zero size or recharts skips them
const PAD = { top: 30, right: 60, bottom: 75, left: 100 }
const AXIS_BOTTOM = 60
const AXIS_LEFT = 80
const AXIS_THIN = 1
const M = {
  top: PAD.top - AXIS_THIN,
  right: PAD.right - AXIS_THIN,
  bottom: PAD.bottom - AXIS_BOTTOM,
  left: PAD.left - AXIS_LEFT,
}

type PanelProps = {
  alpha: Pt[]
  tEnd: number
  xTicks: number[]
  yTicks: number[]
  col: number
  row: number
  lineWidth: number
}

function Panel({ alpha, tEnd, xTicks, yTicks, col, row, lineWidth }: PanelProps) {
  const series = alpha.map(([t, a]) => ({ t, a }))
  const limit = [
    { t: 20, m: ALPHA_MAX },
    { t: tEnd, m: ALPHA_MAX },
  ]
  const xDomain = [xTicks[0], xTicks[xTicks.length - 1]]
  const yDomain = [yTicks[0], yTicks[yTicks.length - 1]]
  const h = ROW_H[row]
  const frame = { stroke: "#000", strokeWidth: 3, strokeLinecap: "square" as const }

  // matlab style: ticks point inward, labels sit a bit off the tick
  const bottomTick = (p: any) => {
    const last = p.index === xTicks.length - 1
    const shift = last ? 6 : String(p.payload.value).length === 3 ? 21 : 16
    return (
      <g>
        <line x1={p.x} x2={p.x} y1={p.y} y2={p.y - 9} stroke="#000" strokeWidth={2} />
        <text x={p.x + shift} y={p.y + 57} textAnchor="middle" fontSize={48} fontFamily={FONT} fill="#000">
          {p.payload.value}
        </text>
      </g>
    )
  }
  const topTick = (p: any) => (
    <line x1={p.x} x2={p.x} y1={p.y} y2={p.y + 9} stroke="#000" strokeWidth={2} />
  )
  const leftTick = (p: any) => (
    <g>
      <line x1={p.x} x2={p.x + 9} y1={p.y} y2={p.y} stroke="#000" strokeWidth={2} />
      <text x={p.x - 48} y={p.y + 21} textAnchor="middle" fontSize={47} fontFamily={FONT} fill="#000">
        {p.payload.value}
      </text>
    </g>
  )
  const rightTick = (p: any) => (
    <line x1={p.x} x2={p.x - 9} y1={p.y} y2={p.y} stroke="#000" strokeWidth={2} />
  )

  const common = {
    type: "number" as const,
    interval: 0 as const,
    tickSize: 0,
    tickMargin: 0,
    tickLine: false,
    axisLine: frame,
  }

  return (
    <div style={{ position: "absolute", left: COL_X[col] - PAD.left, top: ROW_Y[row] - PAD.top }}>
      <LineChart width={PLOT_W + PAD.left + PAD.right} height={h + PAD.top + PAD.bottom} margin={M}>
        <CartesianGrid stroke="#000" strokeWidth={2} strokeDasharray="2 11.5" />
        <XAxis {...common} dataKey="t" domain={xDomain} ticks={xTicks} height={AXIS_BOTTOM} tick={bottomTick} />
        <XAxis
          {...common}
          xAxisId="top"
          orientation="top"
          dataKey="t"
          domain={xDomain}
          ticks={xTicks}
          height={AXIS_THIN}
          tick={topTick}
        />
        <YAxis {...common} domain={yDomain} ticks={yTicks} width={AXIS_LEFT} tick={leftTick} />
        <YAxis
          {...common}
          yAxisId="right"
          orientation="right"
          domain={yDomain}
          ticks={yTicks}
          width={AXIS_THIN}
          tick={rightTick}
        />
        <Line
          data={series}
          dataKey="a"
          type="linear"
          stroke={BLUE}
          strokeWidth={lineWidth}
          dot={false}
          isAnimationActive={false}
        />
        <Line
          data={limit}
          dataKey="m"
          type="linear"
          stroke={RED}
          strokeWidth={3}
          strokeDasharray={DASH_DOT}
          dot={false}
          isAnimationActive={false}
        />
      </LineChart>
    </div>
  )
}

function AlphaLegend() {
  return (
    <svg width={261} height={92} style={{ position: "absolute", left: 701, top: 803, overflow: "visible" }}>
      <rect x={1.5} y={1.5} width={258} height={89} fill="#fff" stroke="#000" strokeWidth={3} />
      <line x1={19} x2={128} y1={21} y2={21} stroke={BLUE} strokeWidth={2.5} />
      <line x1={19} x2={128} y1={61} y2={61} stroke={RED} strokeWidth={3} strokeDasharray={DASH_DOT} />
      <text x={160} y={36} fontSize={54} fontStyle="italic" fontFamily={SERIF} fill="#000">
        {legendLabels[0]}
      </text>
      <text x={156} y={74} fontSize={54} fontStyle="italic" fontFamily={SERIF} fill="#000">
        {legendLabels[1]}
      </text>
      <text x={190} y={87} fontSize={32} fontFamily={SERIF} fill="#000">
        {legendLabels[2]}
      </text>
    </svg>
  )
}

export default function App() {
  const titleX = [578, 1567]
  const timeLabelX = [577, 1537]
  const rowLabelY = [280, 747, 1203]
  const boxes = [
    [109, 1046],
    [1069, 2006],
  ]
  return (
    <div style={{ position: "absolute", left: 0, top: 0, width: 2014, height: 1493, background: "#fff", overflow: "hidden" }}>
      <svg width={2014} height={1493} style={{ position: "absolute", left: 0, top: 0 }}>
        {boxes.map(([a, b], i) => (
          <path
            key={i}
            d={`M${a},1493 L${a},41 L${b},41 L${b},1493`}
            fill="none"
            stroke="#000"
            strokeWidth={2}
            strokeDasharray="31 13"
          />
        ))}
        {columnTitles.map((t, i) => (
          <text key={t} x={titleX[i]} y={99} textAnchor="middle" fontSize={50} fontFamily={FONT} fill="#000">
            {t}
          </text>
        ))}
        {timeLabelX.map((x, i) => (
          <text key={i} x={x} y={1482} textAnchor="middle" fontSize={50} fontFamily={FONT} fill="#000">
            {xAxisLabel}
          </text>
        ))}
        {rowLabels.map((t, i) => (
          <text
            key={t}
            transform={`translate(88 ${rowLabelY[i]}) rotate(-90)`}
            textAnchor="middle"
            fontSize={37}
            fontWeight="bold"
            fontFamily={FONT}
            fill="#000"
          >
            {t}
          </text>
        ))}
      </svg>
      <Panel alpha={idealSpeed} tEnd={160} xTicks={timeTicks} yTicks={alphaTicks} col={0} row={0} lineWidth={2.6} />
      <Panel alpha={idealTether} tEnd={160} xTicks={timeTicks} yTicks={alphaTicks} col={1} row={0} lineWidth={2.6} />
      <Panel alpha={moderatedSpeed} tEnd={160} xTicks={timeTicks} yTicks={alphaTicks} col={0} row={1} lineWidth={3} />
      <Panel alpha={moderatedTether} tEnd={160} xTicks={timeTicks} yTicks={alphaTicks} col={1} row={1} lineWidth={3} />
      <Panel alpha={highSpeed} tEnd={136.4} xTicks={timeTicksHigh} yTicks={alphaTicksHigh} col={0} row={2} lineWidth={3} />
      <Panel alpha={highTether} tEnd={160} xTicks={timeTicks} yTicks={alphaTicksHigh} col={1} row={2} lineWidth={3} />
      <AlphaLegend />
    </div>
  )
}
